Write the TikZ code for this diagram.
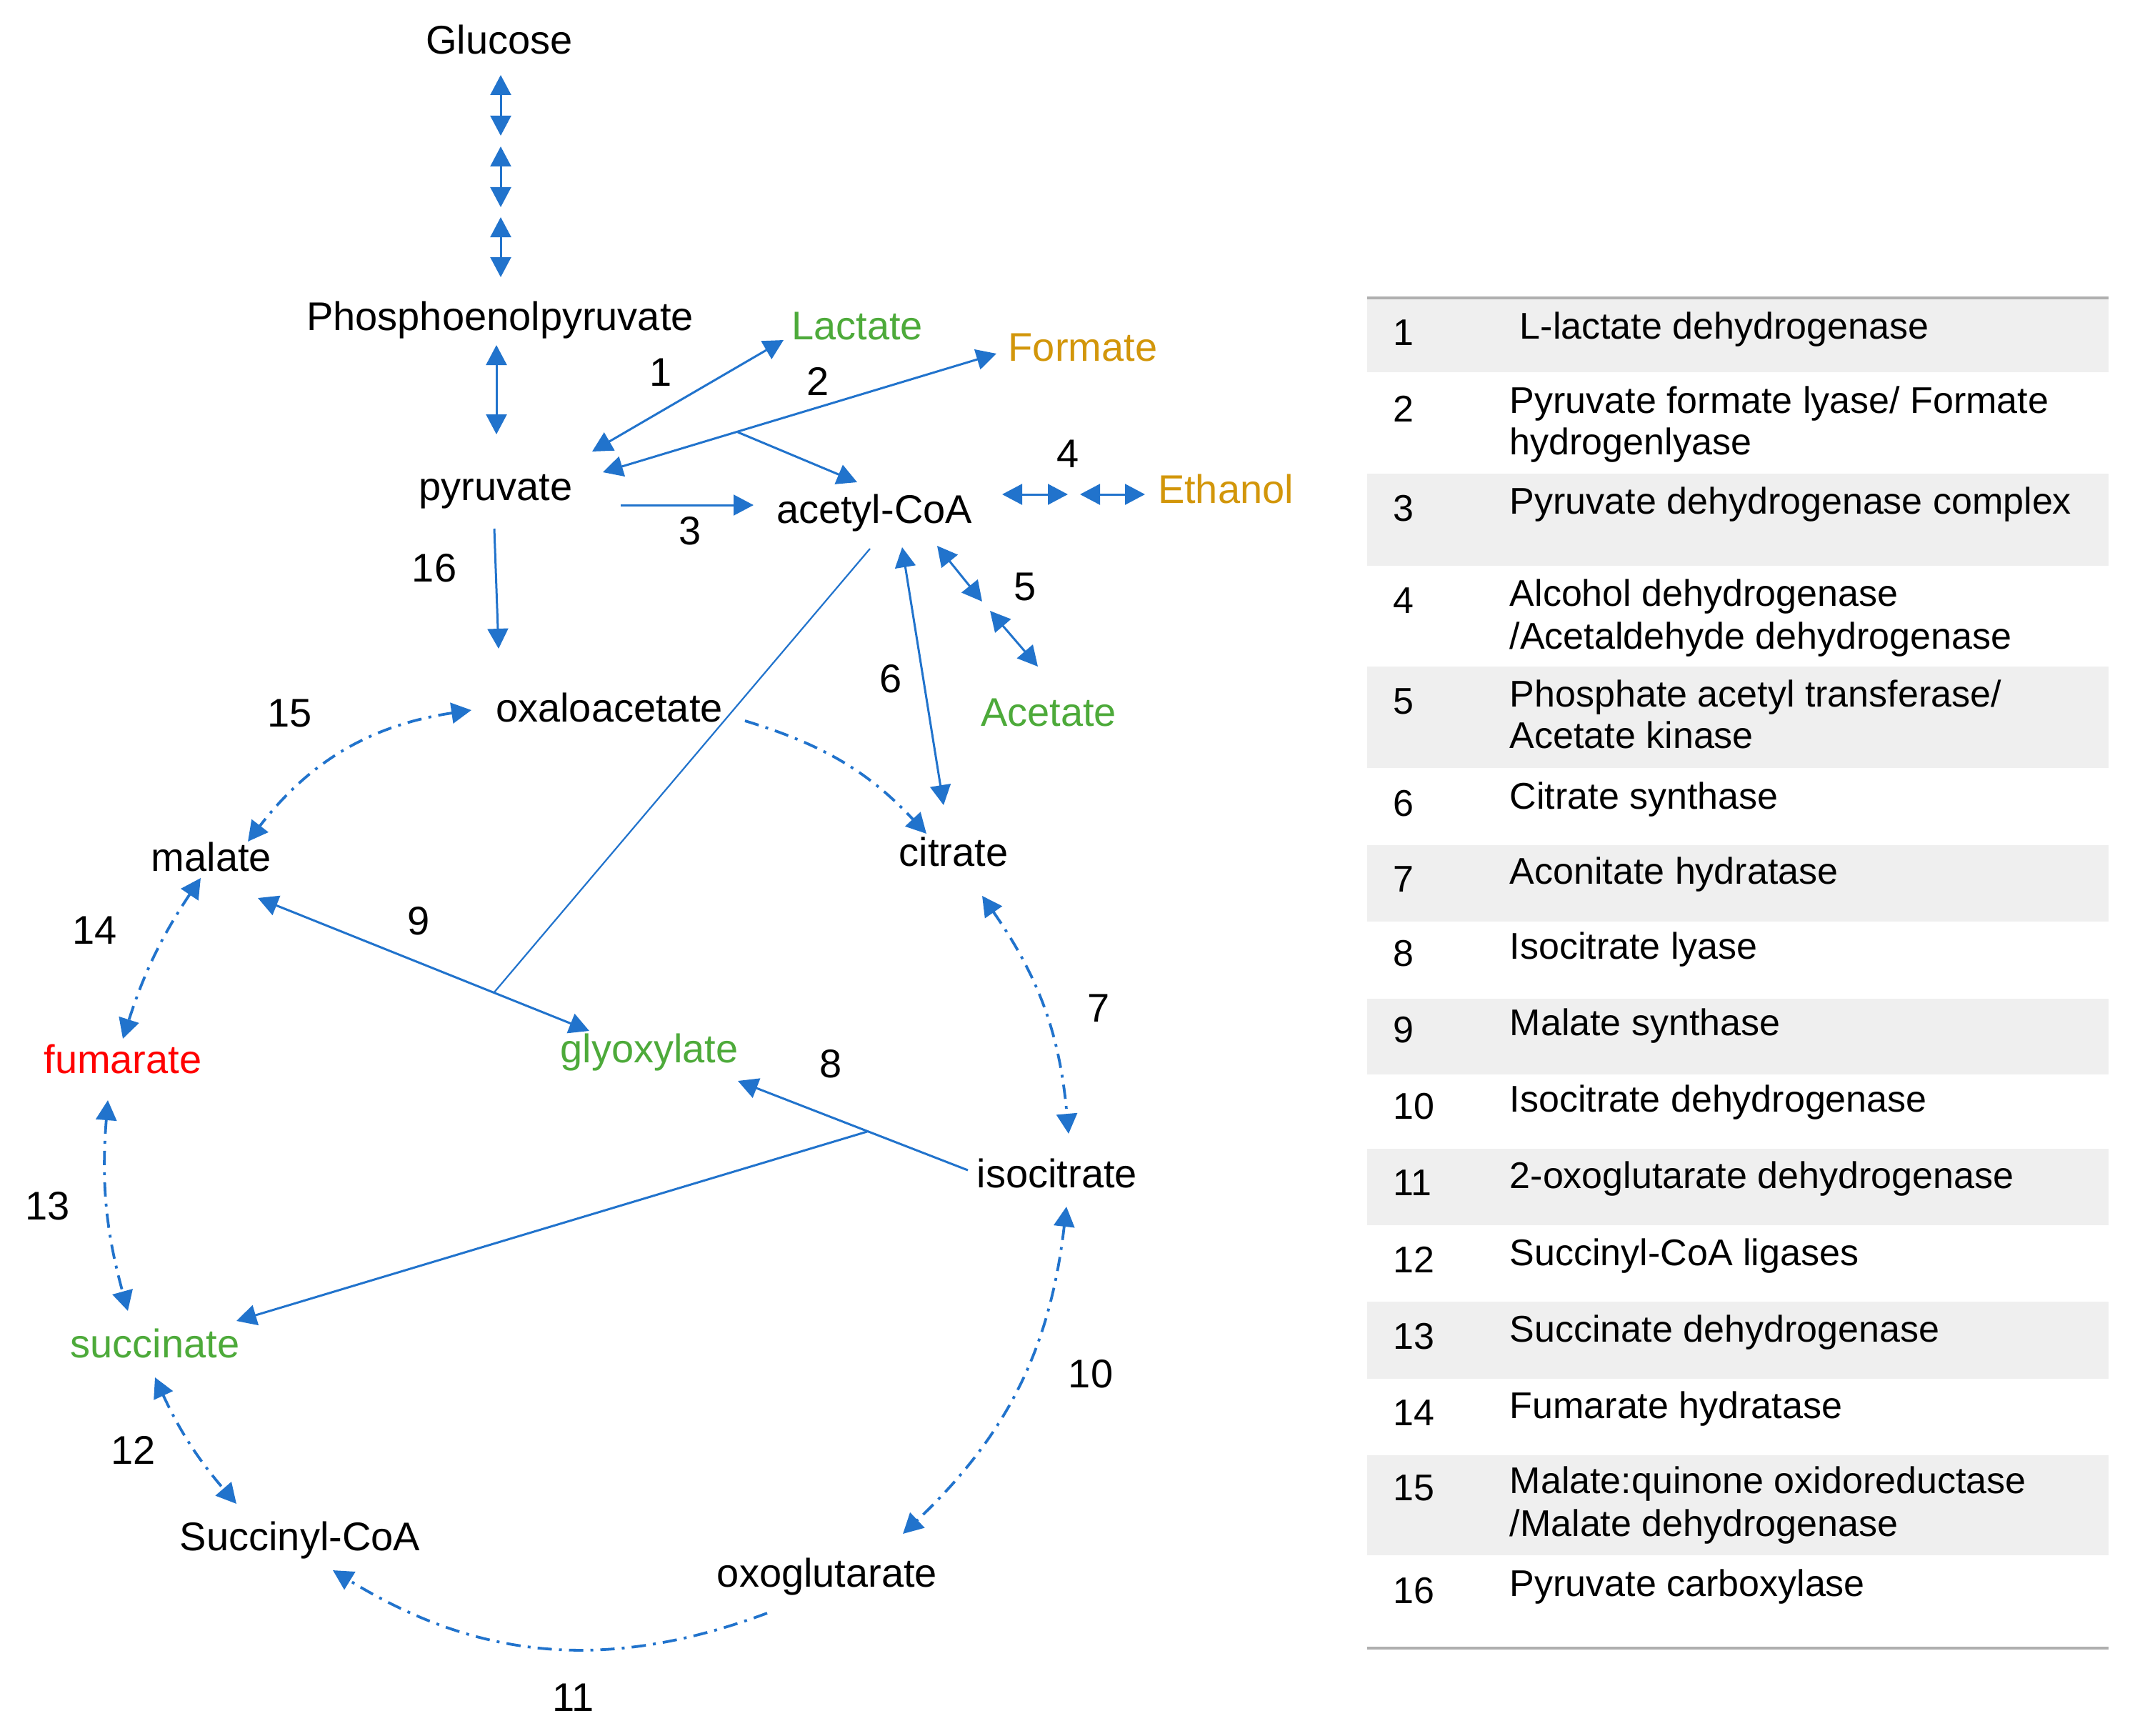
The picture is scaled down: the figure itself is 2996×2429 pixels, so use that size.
\documentclass[tikz,border=0pt]{standalone}
\usepackage{fontspec}
\setmainfont{Liberation Sans}
\usetikzlibrary{arrows.meta}
\definecolor{arr}{RGB}{33,115,204}
\definecolor{grn}{RGB}{77,170,58}
\definecolor{org}{RGB}{210,150,10}
\definecolor{rowgray}{RGB}{239,239,239}
\definecolor{rulegray}{RGB}{175,175,175}
\tikzset{hd/.tip={Triangle[length=7pt,width=7.2pt]}}
\begin{document}
\begin{tikzpicture}[x=0.25pt,y=-0.25pt,
 met/.style={inner sep=0pt, anchor=base, font=\fontsize{14pt}{16pt}\selectfont},
 ttxt/.style={inner sep=0pt, anchor=base west, font=\fontsize{13pt}{15pt}\selectfont},
 conn/.style={draw=arr, line width=0.75pt},
 one/.style={conn,-hd},
 two/.style={conn,hd-hd},
 thin/.style={draw=arr, line width=0.55pt},
 dashdot/.style={dash pattern=on 5pt off 2.5pt on 1pt off 2.5pt, line width=0.95pt}]
\useasboundingbox (0,0) rectangle (2996,2429);

% ---------- table ----------
\foreach \a/\b in {417/521,663/792,933/1075,1183/1290,1398/1504,1608/1715,1822/1930,2037/2177}
  \fill[rowgray] (1914,\a) rectangle (2952,\b);
\draw[rulegray, line width=1pt] (1914,417) -- (2952,417);
\draw[rulegray, line width=1.2pt] (1914,2307) -- (2952,2307);

\node[ttxt] (tn1) at (1950,483) {1};
\node[ttxt] (tt1) at (2127,474) {L-lactate dehydrogenase};
\node[ttxt] (tn2) at (1950,590) {2};
\node[ttxt] (tt2a) at (2113,578) {Pyruvate formate lyase/ Formate};
\node[ttxt] (tt2b) at (2113,636) {hydrogenlyase};
\node[ttxt] (tn3) at (1950,729) {3};
\node[ttxt] (tt3) at (2113,719) {Pyruvate dehydrogenase complex};
\node[ttxt] (tn4) at (1950,858) {4};
\node[ttxt] (tt4a) at (2113,848) {Alcohol dehydrogenase};
\node[ttxt] (tt4b) at (2113,908) {/Acetaldehyde dehydrogenase};
\node[ttxt] (tn5) at (1950,999) {5};
\node[ttxt] (tt5a) at (2113,989) {Phosphate acetyl transferase/};
\node[ttxt] (tt5b) at (2113,1047) {Acetate kinase};
\node[ttxt] (tn6) at (1950,1142) {6};
\node[ttxt] (tt6) at (2113,1132) {Citrate synthase};
\node[ttxt] (tn7) at (1950,1248) {7};
\node[ttxt] (tt7) at (2113,1237) {Aconitate hydratase};
\node[ttxt] (tn8) at (1950,1352) {8};
\node[ttxt] (tt8) at (2113,1342) {Isocitrate lyase};
\node[ttxt] (tn9) at (1950,1459) {9};
\node[ttxt] (tt9) at (2113,1449) {Malate synthase};
\node[ttxt] (tn10) at (1950,1566) {10};
\node[ttxt] (tt10) at (2113,1556) {Isocitrate dehydrogenase};
\node[ttxt] (tn11) at (1950,1673) {11};
\node[ttxt] (tt11) at (2113,1663) {2-oxoglutarate dehydrogenase};
\node[ttxt] (tn12) at (1950,1781) {12};
\node[ttxt] (tt12) at (2113,1771) {Succinyl-CoA ligases};
\node[ttxt] (tn13) at (1950,1888) {13};
\node[ttxt] (tt13) at (2113,1878) {Succinate dehydrogenase};
\node[ttxt] (tn14) at (1950,1995) {14};
\node[ttxt] (tt14) at (2113,1985) {Fumarate hydratase};
\node[ttxt] (tn15) at (1950,2100) {15};
\node[ttxt] (tt15a) at (2113,2090) {Malate:quinone oxidoreductase};
\node[ttxt] (tt15b) at (2113,2150) {/Malate dehydrogenase};
\node[ttxt] (tn16) at (1950,2244) {16};
\node[ttxt] (tt16) at (2113,2234) {Pyruvate carboxylase};

% ---------- metabolites ----------
\node[met] (glc) at (699,76) {Glucose};
\node[met] (pep) at (700,462) {Phosphoenolpyruvate};
\node[met] (pyr) at (694,700) {pyruvate};
\node[met,text=grn] (lac) at (1200,475) {Lactate};
\node[met,text=org] (frm) at (1516,505) {Formate};
\node[met] (acc) at (1224,732) {acetyl-CoA};
\node[met,text=org] (eth) at (1716,704) {Ethanol};
\node[met,text=grn] (ace) at (1468,1016) {Acetate};
\node[met] (oaa) at (853,1010) {oxaloacetate};
\node[met] (mal) at (296,1219) {malate};
\node[met] (cit) at (1335,1212) {citrate};
\node[met,text=red] (fum) at (172,1502) {fumarate};
\node[met,text=grn] (gly) at (909,1487) {glyoxylate};
\node[met] (icit) at (1480,1662) {isocitrate};
\node[met,text=grn] (suc) at (217,1900) {succinate};
\node[met] (scoa) at (420,2170) {Succinyl-CoA};
\node[met] (oxg) at (1158,2221) {oxoglutarate};

% ---------- reaction numbers ----------
\node[met] (r1) at (925,540) {1};
\node[met] (r2) at (1145,553) {2};
\node[met] (r3) at (966,762) {3};
\node[met] (r4) at (1495,654) {4};
\node[met] (r5) at (1435,840) {5};
\node[met] (r6) at (1247,969) {6};
\node[met] (r16) at (608,814) {16};
\node[met] (r15) at (406,1017) {15};
\node[met] (r9) at (586,1308) {9};
\node[met] (r14) at (133,1321) {14};
\node[met] (r13) at (67,1707) {13};
\node[met] (r7) at (1538,1430) {7};
\node[met] (r8) at (1163,1508) {8};
\node[met] (r10) at (1527,1942) {10};
\node[met] (r12) at (187,2049) {12};
\node[met] (r11) at (803,2395) {11};

% ---------- connector end points ----------
\coordinate (g1) at (701,105); \coordinate (g2) at (701,190);
\coordinate (g3) at (701,205); \coordinate (g4) at (701,290);
\coordinate (g5) at (701,304); \coordinate (g6) at (701,388);
\coordinate (pepS) at (695,483); \coordinate (pyrN) at (695,608);
\coordinate (pyrA) at (829,632); \coordinate (lacA) at (1097,476);
\coordinate (pyrB) at (844,661); \coordinate (frmA) at (1395,495);
\coordinate (br2) at (1033,605); \coordinate (accA) at (1200,675);
\coordinate (pyrE) at (869,707); \coordinate (accW) at (1055,707);
\coordinate (accE) at (1403,692); \coordinate (mid4a) at (1495,692);
\coordinate (mid4b) at (1512,692); \coordinate (ethW) at (1603,692);
\coordinate (accSE) at (1312,764); \coordinate (mid5a) at (1375,842);
\coordinate (mid5b) at (1386,855); \coordinate (aceN) at (1453,933);
\coordinate (accS) at (1263,766); \coordinate (citN) at (1321,1127);
\coordinate (pyrS) at (692,740); \coordinate (oaaN) at (698,908);
\coordinate (malE) at (361,1257); \coordinate (glyN) at (825,1443);
\coordinate (br9) at (691,1390); \coordinate (accSW) at (1218,768);
\coordinate (icitW) at (1355,1638); \coordinate (glyE) at (1033,1513);
\coordinate (br8) at (1214,1584); \coordinate (sucNE) at (331,1849);
\coordinate (oaaW) at (660,994); \coordinate (malN) at (347,1178);
\coordinate (oaaE) at (1043,1009); \coordinate (citNW) at (1297,1167);
\coordinate (citS) at (1375,1254); \coordinate (icitN) at (1496,1587);
\coordinate (icitS) at (1493,1689); \coordinate (oxgN) at (1264,2147);
\coordinate (oxgS) at (1074,2258); \coordinate (scoaS) at (466,2198);
\coordinate (sucS) at (217,1928); \coordinate (scoaN) at (331,2105);
\coordinate (fumS) at (151,1540); \coordinate (sucN) at (179,1835);
\coordinate (malS) at (281,1229); \coordinate (fumN) at (172,1454);

% ---------- solid connectors ----------
\draw[two] (g1) -- (g2);
\draw[two] (g3) -- (g4);
\draw[two] (g5) -- (g6);
\draw[two] (pepS) -- (pyrN);
\draw[two] (pyrA) -- (lacA);
\draw[two] (pyrB) -- (frmA);
\draw[one] (br2) -- (accA);
\draw[one] (pyrE) -- (accW);
\draw[two] (accE) -- (mid4a);
\draw[two] (mid4b) -- (ethW);
\draw[two] (accSE) -- (mid5a);
\draw[two] (mid5b) -- (aceN);
\draw[two] (accS) -- (citN);
\draw[one] (pyrS) -- (oaaN);
\draw[two] (malE) -- (glyN);
\draw[thin] (br9) -- (accSW);
\draw[one] (icitW) -- (glyE);
\draw[one] (br8) -- (sucNE);

% ---------- dash-dot connectors ----------
\draw[two,dashdot] (oaaW) to[bend right=22] (malN);
\draw[one,dashdot] (oaaE) to[bend left=15] (citNW);
\draw[two,dashdot] (citS) to[bend left=15] (icitN);
\draw[two,dashdot] (icitS) to[bend left=20] (oxgN);
\draw[one,dashdot] (oxgS) to[bend left=26] (scoaS);
\draw[two,dashdot] (sucS) to[bend right=8] (scoaN);
\draw[two,dashdot] (fumS) to[bend right=10] (sucN);
\draw[two,dashdot] (malS) to[bend right=8] (fumN);
\end{tikzpicture}
\end{document}
